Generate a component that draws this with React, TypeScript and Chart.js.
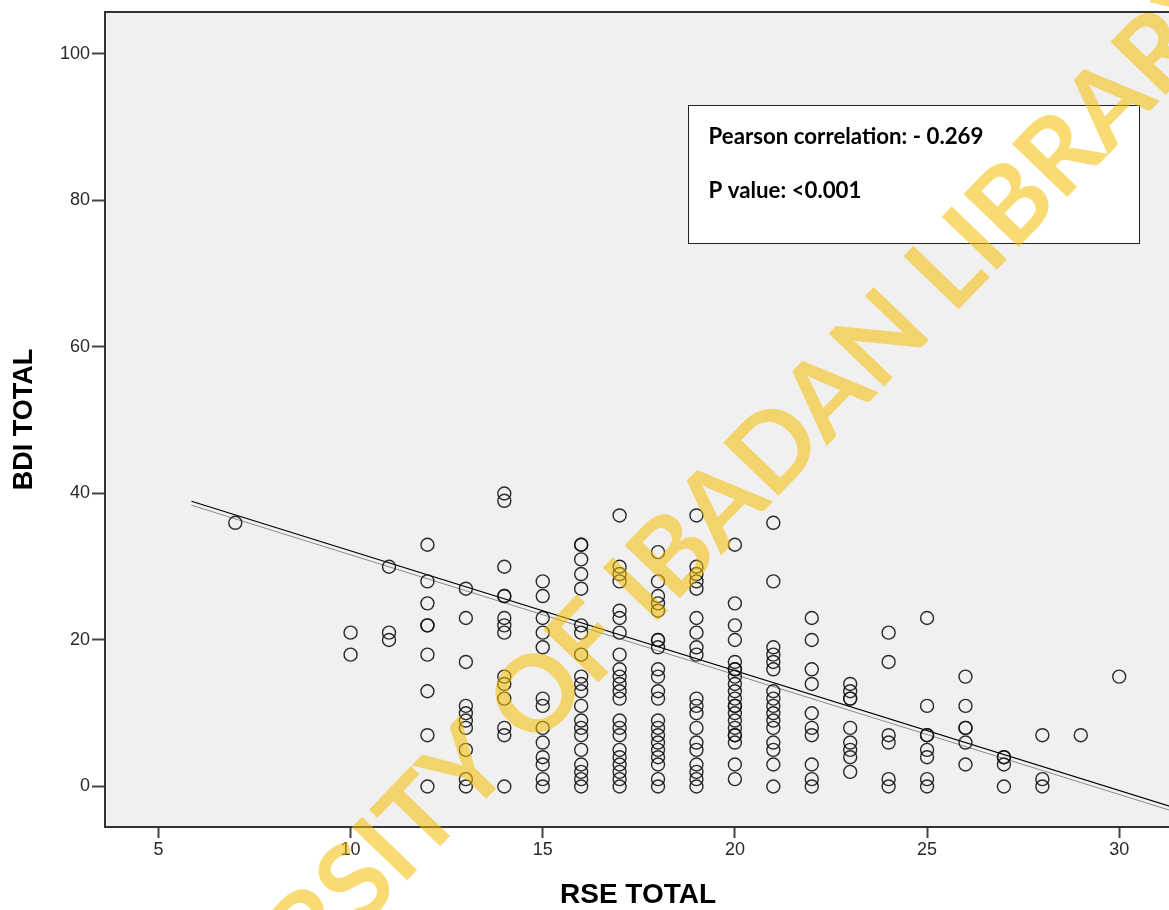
import React, { useEffect, useRef } from "react";
import { Chart, registerables } from "chart.js";

Chart.register(...registerables);

// RSE TOTAL values (x) and the BDI TOTAL values observed at each one
const rseValues = [7, 10, 11, 12, 13, 14, 15, 16, 17, 18, 19, 20, 21, 22, 23, 24, 25, 26, 27, 28, 29, 30];
const bdiAt7 = [36];
const bdiAt10 = [21, 18];
const bdiAt11 = [30, 21, 20];
const bdiAt12 = [33, 28, 25, 22, 22, 18, 13, 7, 0];
const bdiAt13 = [27, 23, 17, 11, 10, 9, 8, 5, 1, 0];
const bdiAt14 = [40, 39, 30, 26, 26, 23, 22, 21, 15, 14, 12, 8, 7, 0];
const bdiAt15 = [28, 26, 23, 21, 19, 12, 11, 8, 6, 4, 3, 1, 0];
const bdiAt16 = [33, 33, 31, 29, 27, 22, 21, 18, 15, 14, 13, 11, 9, 8, 7, 5, 3, 2, 1, 0];
const bdiAt17 = [37, 30, 29, 28, 24, 23, 21, 18, 16, 15, 14, 13, 12, 9, 8, 7, 5, 4, 3, 2, 1, 0];
const bdiAt18 = [32, 28, 26, 25, 24, 20, 20, 19, 16, 15, 13, 12, 9, 8, 7, 6, 5, 4, 3, 1, 0];
const bdiAt19 = [37, 30, 29, 28, 27, 23, 21, 19, 18, 12, 11, 10, 8, 6, 5, 3, 2, 1, 0];
const bdiAt20 = [33, 25, 22, 20, 17, 16, 16, 15, 14, 13, 12, 11, 11, 10, 9, 8, 7, 7, 6, 3, 1];
const bdiAt21 = [36, 28, 19, 18, 17, 16, 13, 12, 11, 10, 9, 8, 6, 5, 3, 0];
const bdiAt22 = [23, 20, 16, 14, 10, 8, 7, 3, 1, 0];
const bdiAt23 = [14, 13, 12, 12, 8, 6, 5, 4, 2];
const bdiAt24 = [21, 17, 7, 6, 1, 0];
const bdiAt25 = [23, 11, 7, 7, 5, 4, 1, 0];
const bdiAt26 = [15, 11, 8, 8, 6, 3];
const bdiAt27 = [4, 4, 3, 0];
const bdiAt28 = [7, 1, 0];
const bdiAt29 = [7];
const bdiAt30 = [15];
const bdiByRse = [
  bdiAt7, bdiAt10, bdiAt11, bdiAt12, bdiAt13, bdiAt14, bdiAt15, bdiAt16, bdiAt17, bdiAt18, bdiAt19,
  bdiAt20, bdiAt21, bdiAt22, bdiAt23, bdiAt24, bdiAt25, bdiAt26, bdiAt27, bdiAt28, bdiAt29, bdiAt30,
];

// fit lines (start / end points in data units)
const fitLineX = [5.86, 31.35];
const fitLineBlackY = [38.94, -2.75];
const fitLineGrayY = [38.4, -3.3];

const xTicks = [5, 10, 15, 20, 25, 30];
const yTicks = [0, 20, 40, 60, 80, 100];
const xRange = [3.61, 31.35];
const yRange = [-5.53, 105.73];

const xTitle = "RSE TOTAL";
const yTitle = "BDI TOTAL";
const statLines = ["Pearson correlation: - 0.269", "P value: <0.001"];
const watermarkText = "UNIVERSITY OF IBADAN LIBRARY";

const AXIS_FONT = '"Liberation Sans", Arial, sans-serif';

const backgroundPlugin = {
  id: "plotBackground",
  beforeDraw(chart: any) {
    const { ctx, chartArea, width, height } = chart;
    ctx.save();
    ctx.fillStyle = "#ffffff";
    ctx.fillRect(0, 0, width, height);
    ctx.fillStyle = "#f0f0f0";
    ctx.fillRect(chartArea.left, chartArea.top, chartArea.right - chartArea.left, chartArea.bottom - chartArea.top);
    ctx.restore();
  },
  afterDraw(chart: any) {
    const { ctx, chartArea } = chart;
    ctx.save();
    ctx.strokeStyle = "#333333";
    ctx.lineWidth = 2;
    ctx.beginPath();
    ctx.moveTo(chartArea.left, chartArea.top);
    ctx.lineTo(chartArea.right, chartArea.top);
    ctx.lineTo(chartArea.right, chartArea.bottom);
    ctx.stroke();
    ctx.restore();
  },
};

const statBoxPlugin = {
  id: "statBox",
  afterDatasetsDraw(chart: any) {
    const { ctx, chartArea } = chart;
    const left = chartArea.left + 583.5;
    const top = chartArea.top + 93.5;
    const w = 451;
    const h = 138;
    ctx.save();
    ctx.fillStyle = "#ffffff";
    ctx.fillRect(left, top, w, h);
    ctx.strokeStyle = "#222222";
    ctx.lineWidth = 1;
    ctx.strokeRect(left, top, w, h);
    ctx.fillStyle = "#000000";
    ctx.textAlign = "left";
    ctx.textBaseline = "alphabetic";
    let size = 22;
    ctx.font = `bold ${size}px Lato, "Open Sans", sans-serif`;
    const measured = ctx.measureText(statLines[0]).width;
    size = (size * 275) / measured;
    ctx.font = `bold ${size}px Lato, "Open Sans", sans-serif`;
    ctx.fillText(statLines[0], left + 20, top + 38);
    ctx.fillText(statLines[1], left + 20, top + 92);
    ctx.restore();
  },
};

const watermarkPlugin = {
  id: "watermark",
  afterDraw(chart: any) {
    const { ctx } = chart;
    ctx.save();
    ctx.translate(645, 585);
    ctx.rotate((-46 * Math.PI) / 180);
    ctx.font = 'bold 106px Lato, "Open Sans", sans-serif';
    ctx.fillStyle = "rgba(245, 190, 0, 0.55)";
    ctx.textAlign = "center";
    ctx.textBaseline = "middle";
    ctx.fillText(watermarkText, 0, 0);
    ctx.restore();
  },
};

export default function App() {
  const canvasRef = useRef<HTMLCanvasElement | null>(null);

  useEffect(() => {
    const canvas = canvasRef.current;
    if (!canvas) return;
    const points: { x: number; y: number }[] = [];
    rseValues.forEach((x, i) => {
      bdiByRse[i].forEach((y) => points.push({ x, y }));
    });
    const blackLine = fitLineX.map((x, i) => ({ x, y: fitLineBlackY[i] }));
    const grayLine = fitLineX.map((x, i) => ({ x, y: fitLineGrayY[i] }));

    const chart = new Chart(canvas, {
      type: "scatter",
      data: {
        datasets: [
          {
            type: "line",
            data: grayLine,
            borderColor: "#8a8a8a",
            borderWidth: 1,
            pointRadius: 0,
            fill: false,
            order: 3,
          } as any,
          {
            type: "line",
            data: blackLine,
            borderColor: "#000000",
            borderWidth: 1.2,
            pointRadius: 0,
            fill: false,
            order: 2,
          } as any,
          {
            type: "scatter",
            data: points,
            pointStyle: "circle",
            pointRadius: 6.5,
            pointBorderWidth: 1.4,
            borderColor: "rgba(20,20,20,0.9)",
            backgroundColor: "rgba(0,0,0,0)",
            order: 1,
          } as any,
        ],
      },
      options: {
        responsive: false,
        animation: false,
        devicePixelRatio: 1,
        layout: { padding: { top: 12, right: 2, bottom: 0, left: 0 } },
        plugins: { legend: { display: false }, tooltip: { enabled: false } },
        scales: {
          x: {
            type: "linear",
            min: xRange[0],
            max: xRange[1],
            afterBuildTicks: (s: any) => {
              s.ticks = xTicks.map((v) => ({ value: v }));
            },
            afterFit: (s: any) => {
              s.height = 83;
              s.paddingLeft = 0;
              s.paddingRight = 0;
            },
            grid: { drawOnChartArea: false, drawTicks: true, tickLength: 11, tickColor: "#444444", tickWidth: 2 },
            border: { display: true, color: "#333333", width: 2 },
            ticks: { font: { family: AXIS_FONT, size: 18 }, color: "#2a2a2a", padding: 1, maxRotation: 0, autoSkip: false },
            title: {
              display: true,
              text: xTitle,
              color: "#000000",
              font: { family: AXIS_FONT, size: 28, weight: "bold", lineHeight: 1.05 },
              padding: { top: 0, bottom: 0 },
            },
          },
          y: {
            type: "linear",
            min: yRange[0],
            max: yRange[1],
            afterBuildTicks: (s: any) => {
              s.ticks = yTicks.map((v) => ({ value: v }));
            },
            afterFit: (s: any) => {
              s.width = 105;
              s.paddingTop = 0;
              s.paddingBottom = 0;
            },
            grid: { drawOnChartArea: false, drawTicks: true, tickLength: 13, tickColor: "#444444", tickWidth: 2 },
            border: { display: true, color: "#333333", width: 2 },
            ticks: { font: { family: AXIS_FONT, size: 18 }, color: "#2a2a2a", padding: 2, autoSkip: false },
            title: {
              display: true,
              text: yTitle,
              color: "#000000",
              font: { family: AXIS_FONT, size: 27, weight: "bold", lineHeight: 1.2 },
              padding: { top: 8, bottom: 0 },
            },
          },
        },
      },
      plugins: [backgroundPlugin, statBoxPlugin, watermarkPlugin],
    } as any);

    return () => {
      chart.destroy();
    };
  }, []);

  return (
    <div
      style={{
        position: "absolute",
        left: 0,
        top: 0,
        width: 1169,
        height: 910,
        overflow: "hidden",
        background: "#ffffff",
      }}
    >
      <canvas ref={canvasRef} width={1179} height={910} style={{ display: "block" }} />
    </div>
  );
}
